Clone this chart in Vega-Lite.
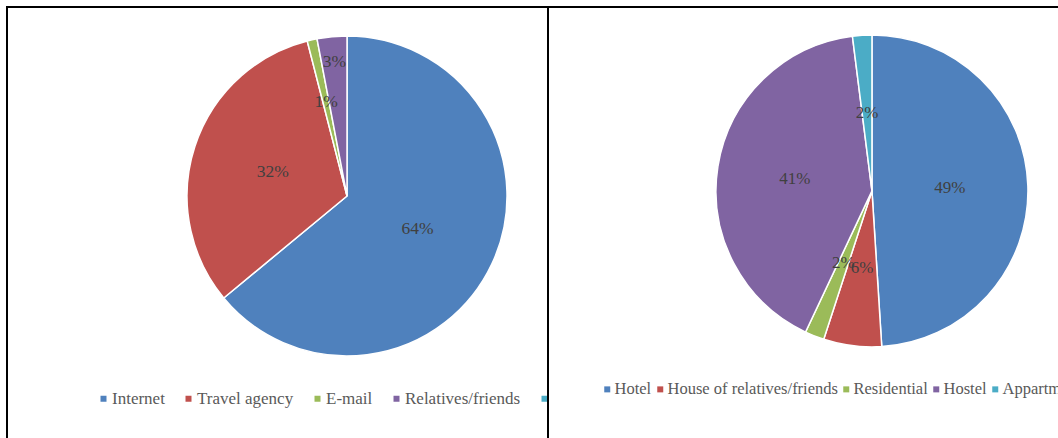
{
  "$schema": "https://vega.github.io/schema/vega-lite/v6.json",
  "background": "white",
  "padding": {"left": 6, "top": 6, "right": 0, "bottom": 0},
  "bounds": "flush",
  "spacing": 0,
  "datasets": {
    "source": [
      {"category": "Internet", "share": 0.64, "idx": 1},
      {"category": "Travel agency", "share": 0.32, "idx": 2},
      {"category": "E-mail", "share": 0.01, "idx": 3},
      {"category": "Relatives/friends", "share": 0.03, "idx": 4}
    ],
    "stay": [
      {"category": "Hotel", "share": 0.49, "idx": 1},
      {"category": "House of relatives/friends", "share": 0.06, "idx": 2},
      {"category": "Residential", "share": 0.02, "idx": 3},
      {"category": "Hostel", "share": 0.41, "idx": 4},
      {"category": "Appartment", "share": 0.02, "idx": 5}
    ]
  },
  "config": {
    "font": "'Liberation Serif', 'DejaVu Serif', serif",
    "view": {"stroke": "black", "strokeWidth": 2, "fill": "white"}
  },
  "resolve": {"scale": {"color": "independent", "theta": "independent", "x": "independent", "y": "independent"}},
  "hconcat": [
    {
      "width": 541,
      "height": 440,
      "data": {"name": "source"},
      "encoding": {
        "x": {"datum": "pie", "type": "nominal", "axis": null, "scale": {"type": "point", "align": 0.6285}},
        "y": {"datum": "pie", "type": "nominal", "axis": null, "scale": {"type": "point", "align": 0.4295}},
        "theta": {"field": "share", "type": "quantitative", "stack": true},
        "order": {"field": "idx", "type": "quantitative"}
      },
      "layer": [
        {
          "mark": {"type": "arc", "radius": 160, "stroke": "white", "strokeWidth": 1.5},
          "encoding": {
            "color": {
              "field": "category",
              "type": "nominal",
              "scale": {
                "domain": ["Internet", "Travel agency", "E-mail", "Relatives/friends", "Other"],
                "range": ["#4F81BD", "#C0504D", "#9BBB59", "#8064A2", "#4BACC6"]
              },
              "legend": {
                "orient": "none", "legendX": 88, "legendY": 383, "direction": "horizontal",
                "title": null, "symbolType": "square", "symbolSize": 36, "symbolStrokeWidth": 0,
                "labelFont": "'Liberation Serif', 'DejaVu Serif', serif", "labelFontSize": 17, "labelColor": "#595959",
                "columnPadding": 15, "labelOffset": 0, "labelLimit": 400
              }
            }
          }
        },
        {
          "mark": {
            "type": "text",
            "radius": {"expr": "datum.category == 'Relatives/friends' ? 135 : datum.category == 'E-mail' ? 96 : 78"},
            "font": "'Liberation Serif', 'DejaVu Serif', serif", "fontSize": 17.5
          },
          "encoding": {
            "text": {"field": "share", "type": "quantitative", "format": ".0%"},
            "color": {"value": "#404040"},
            "detail": {"field": "category", "type": "nominal"}
          }
        }
      ]
    },
    {
      "width": 520,
      "height": 440,
      "data": {"name": "stay"},
      "encoding": {
        "x": {"datum": "pie", "type": "nominal", "axis": null, "scale": {"type": "point", "align": 0.623}},
        "y": {"datum": "pie", "type": "nominal", "axis": null, "scale": {"type": "point", "align": 0.418}},
        "theta": {"field": "share", "type": "quantitative", "stack": true},
        "order": {"field": "idx", "type": "quantitative"}
      },
      "layer": [
        {
          "mark": {"type": "arc", "radius": 156, "stroke": "white", "strokeWidth": 1.5},
          "encoding": {
            "color": {
              "field": "category",
              "type": "nominal",
              "scale": {
                "domain": ["Hotel", "House of relatives/friends", "Residential", "Hostel", "Appartment"],
                "range": ["#4F81BD", "#C0504D", "#9BBB59", "#8064A2", "#4BACC6"]
              },
              "legend": {
                "orient": "none", "legendX": 51, "legendY": 374, "direction": "horizontal",
                "title": null, "symbolType": "square", "symbolSize": 36, "symbolStrokeWidth": 0,
                "labelFont": "'Liberation Serif', 'DejaVu Serif', serif", "labelFontSize": 16.5, "labelColor": "#595959",
                "columnPadding": 0, "labelOffset": -1, "labelLimit": 400
              }
            }
          }
        },
        {
          "mark": {"type": "text", "radius": 78, "font": "'Liberation Serif', 'DejaVu Serif', serif", "fontSize": 17},
          "encoding": {
            "text": {"field": "share", "type": "quantitative", "format": ".0%"},
            "color": {"value": "#404040"},
            "detail": {"field": "category", "type": "nominal"}
          }
        }
      ]
    }
  ]
}
